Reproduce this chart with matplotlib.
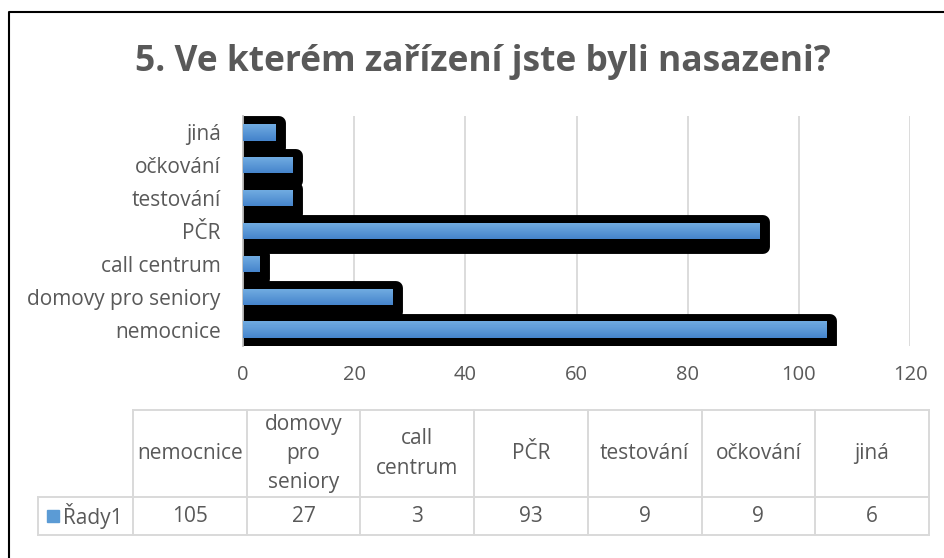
import matplotlib
matplotlib.use('Agg')
import matplotlib.pyplot as plt
from matplotlib.lines import Line2D
from matplotlib.patches import Rectangle
from matplotlib.colors import to_rgb

plt.rcParams['font.family'] = ['Open Sans', 'DejaVu Sans']

# ── Data ──
categories = ['nemocnice', 'domovy pro seniory', 'call centrum', 'PČR',
              'testování', 'očkování', 'jiná']
header_labels = ['nemocnice', 'domovy\npro\nseniory', 'call\ncentrum', 'PČR',
                 'testování', 'očkování', 'jiná']
values = [105, 27, 3, 93, 9, 9, 6]
series_name = 'Řady1'
title = '5. Ve kterém zařízení jste byli nasazeni?'

TXT = '#595959'
GRID = '#D9D9D9'

W, H = 945, 558
fig = plt.figure(figsize=(W / 100, H / 100), dpi=100)

# ── Bar chart ──
ax = fig.add_axes([243 / W, 1 - 346 / H, (910 - 243) / W, (346 - 116) / H])
ypos = list(range(len(categories)))

# black rounded "shadow" behind each bar
ax.barh([y - 0.1 for y in ypos], [v + 0.55 for v in values], height=0.75,
        color='black', edgecolor='black', linewidth=10,
        joinstyle='round', zorder=2)

# blue bar, drawn as thin slices for a vertical gradient
n_sl = 16
bh = 0.49
top_c, bot_c = to_rgb('#6FAAE0'), to_rgb('#4685CC')
for k in range(n_sl):
    t = k / (n_sl - 1)
    c = [top_c[j] * (1 - t) + bot_c[j] * t for j in range(3)]
    yc = [y + bh / 2 - (k + 0.5) * bh / n_sl for y in ypos]
    ax.barh(yc, values, height=bh / n_sl * 1.1, color=c, linewidth=0,
            zorder=3)

ax.set_xlim(0, 120)
ax.set_ylim(-0.5, len(categories) - 0.5)
ax.set_xticks(range(0, 121, 20))
ax.set_yticks(ypos)
ax.set_yticklabels(categories)
ax.tick_params(axis='both', length=0, colors=TXT, labelsize=15)
ax.tick_params(axis='x', pad=14, labelsize=14.5)
ax.tick_params(axis='y', pad=16)
ax.grid(True, axis='x', color=GRID, linewidth=1.3, zorder=0)
ax.set_axisbelow(True)
for s in ['top', 'right', 'bottom']:
    ax.spines[s].set_visible(False)
ax.spines['left'].set_color('#BFBFBF')
ax.spines['left'].set_linewidth(1.3)

# ── Overlay for title, table and border (pixel coords) ──
ov = fig.add_axes([0, 0, 1, 1], zorder=-1)
ov.set_xlim(0, W)
ov.set_ylim(H, 0)
ov.axis('off')

ov.text(483, 62, title, ha='center', va='center', fontsize=25.5,
        fontweight='bold', color=TXT)

# table geometry
x0, cw = 133, 113.7
ncol = len(categories)
x_end = x0 + ncol * cw
y_top, y_mid, y_bot = 410, 497, 535
leg_left = 38
lw_t = 1.4
for i in range(ncol + 1):
    xc = x0 + i * cw
    ov.add_line(Line2D([xc, xc], [y_top, y_bot], color=GRID, lw=lw_t))
ov.add_line(Line2D([x0, x_end], [y_top, y_top], color=GRID, lw=lw_t))
ov.add_line(Line2D([leg_left, x_end], [y_mid, y_mid], color=GRID, lw=lw_t))
ov.add_line(Line2D([leg_left, x_end], [y_bot, y_bot], color=GRID, lw=lw_t))
ov.add_line(Line2D([leg_left, leg_left], [y_mid, y_bot], color=GRID, lw=lw_t))

for i, (lab, v) in enumerate(zip(header_labels, values)):
    xc = x0 + (i + 0.5) * cw
    ov.text(xc, (y_top + y_mid) / 2, lab, ha='center', va='center',
            fontsize=15, color=TXT, linespacing=1.5)
    ov.text(xc, (y_mid + y_bot) / 2, str(v), ha='center', va='center',
            fontsize=15, color=TXT)

# legend key in table
ov.add_patch(Rectangle((47, 510), 12, 12, color='#5B9BD5'))
ov.text(63, (y_mid + y_bot) / 2, series_name, ha='left', va='center',
        fontsize=15, color=TXT)

# chart border (only left and top edges are visible in the crop)
ov.add_line(Line2D([9, 9, W], [H, 12, 12], color='black', lw=1.5))

fig.savefig('out.png', dpi=100)
